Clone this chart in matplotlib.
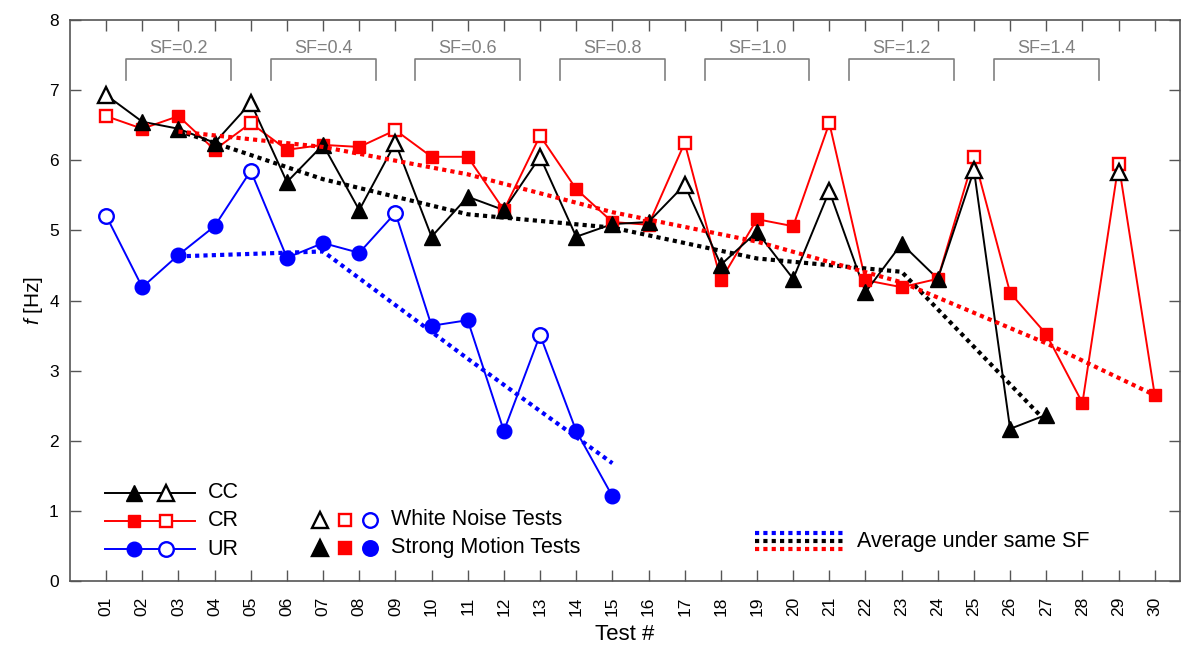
import numpy as np
import matplotlib
matplotlib.use("Agg")
import matplotlib.pyplot as plt

plt.rcParams['font.family'] = ['Liberation Sans', 'DejaVu Sans']
plt.rcParams['mathtext.fontset'] = 'custom'
plt.rcParams['mathtext.it'] = 'Liberation Sans:italic'
plt.rcParams['mathtext.rm'] = 'Liberation Sans'

# test numbers and tick labels
tests = np.arange(1, 31)
tick_labels = ['%02d' % t for t in tests]

nan = np.nan
# natural frequency f [Hz]
cc = [6.93, 6.55, 6.45, 6.25, 6.82, 5.69, 6.22, 5.29, 6.25, 4.91,
      5.48, 5.29, 6.05, 4.91, 5.09, 5.12, 5.65, 4.51, 4.98, 4.31,
      5.56, 4.12, 4.81, 4.31, 5.86, 2.17, 2.37, nan, 5.83, nan]
cr = [6.63, 6.45, 6.63, 6.15, 6.53, 6.15, 6.22, 6.19, 6.43, 6.05,
      6.05, 5.29, 6.35, 5.59, 5.12, 5.08, 6.25, 4.29, 5.16, 5.06,
      6.53, 4.29, 4.19, 4.31, 6.05, 4.11, 3.52, 2.54, 5.95, 2.65]
ur = [5.21, 4.19, 4.65, 5.06, 5.85, 4.61, 4.82, 4.68, 5.25, 3.64,
      3.72, 2.14, 3.51, 2.14, 1.21] + [nan] * 15

# white noise tests (open markers), the rest are strong motion tests
white_noise = [1, 5, 9, 13, 17, 21, 25, 29]

# averages under same SF
avg_x_cc = [3, 7, 11, 15, 19, 23, 27]
avg_cc = [6.42, 5.73, 5.23, 5.04, 4.60, 4.41, 2.27]
avg_x_cr = [3, 7, 11, 15, 19, 23, 27, 30]
avg_cr = [6.41, 6.19, 5.80, 5.26, 4.84, 4.26, 3.39, 2.65]
avg_x_ur = [3, 7, 11, 15]
avg_ur = [4.63, 4.70, 3.17, 1.68]

# SF groups
sf_labels = ['SF=0.2', 'SF=0.4', 'SF=0.6', 'SF=0.8', 'SF=1.0', 'SF=1.2', 'SF=1.4']
sf_centers = [3, 7, 11, 15, 19, 23, 27]

fig = plt.figure(figsize=(11.86, 6.47), dpi=100)
ax = fig.add_axes([0.059, 0.102, 0.936, 0.867])

series = [
    (cr, 'red', 's', 9),
    (cc, 'black', '^', 11.5),
    (ur, 'blue', 'o', 10.5),
]
wn_mask = np.isin(tests, white_noise)
for vals, col, mk, ms in series:
    v = np.array(vals, dtype=float)
    ax.plot(tests, v, '-', color=col, lw=1.4, zorder=2)
    ax.plot(tests[~wn_mask], v[~wn_mask], mk, color=col, ms=ms,
            mec=col, mfc=col, ls='none', zorder=3)
    ax.plot(tests[wn_mask], v[wn_mask], mk, color=col, ms=ms,
            mec=col, mfc='white', mew=1.7, ls='none', zorder=3)

dot = dict(lw=3.0, dashes=(1, 1.0), dash_capstyle='butt', zorder=4)
ax.plot(avg_x_ur, avg_ur, color='blue', **dot)
ax.plot(avg_x_cc, avg_cc, color='black', **dot)
ax.plot(avg_x_cr, avg_cr, color='red', **dot)

# SF brackets
gray = '#808080'
for lab, c in zip(sf_labels, sf_centers):
    ax.plot([c - 1.45, c - 1.45, c + 1.45, c + 1.45], [7.15, 7.45, 7.45, 7.15],
            color=gray, lw=1.2, zorder=1)
    ax.text(c, 7.6, lab, color=gray, fontsize=13, ha='center', va='center')

ax.set_xlim(0, 30.7)
ax.set_ylim(0, 8)
ax.set_xticks(tests)
ax.set_xticklabels(tick_labels, rotation=90, fontsize=12.5)
ax.set_yticks(range(0, 9))
ax.tick_params(axis='both', direction='in', length=8, width=1, color='#555555',
               top=True, right=True, labelsize=12.5)
ax.tick_params(axis='x', pad=11)
ax.tick_params(axis='y', pad=8)
for s in ax.spines.values():
    s.set_color('#555555')
    s.set_linewidth(1.2)
ax.set_xlabel('Test #', fontsize=16, labelpad=6)
ax.set_ylabel(r'$f$ [Hz]', fontsize=15, labelpad=3)

# legend 1: CC / CR / UR
T = ax.transAxes
rows = [('CC', 'black', '^', 11.5, 0.157), ('CR', 'red', 's', 9, 0.107),
        ('UR', 'blue', 'o', 10.5, 0.057)]
for name, col, mk, ms, yy in rows:
    ax.plot([0.0315, 0.1126], [yy, yy], '-', color=col, lw=1.4, transform=T, clip_on=False)
    ax.plot([0.0577], [yy], mk, color=col, ms=ms, transform=T, clip_on=False)
    ax.plot([0.0865], [yy], mk, color=col, ms=ms, mfc='white', mew=1.7,
            transform=T, clip_on=False)
    ax.text(0.124, yy, name, transform=T, fontsize=15.5, va='center', ha='left')

# legend 2: test types
mk_rows = [('White Noise Tests', 'white', 0.109), ('Strong Motion Tests', None, 0.059)]
for name, fill, yy in mk_rows:
    for xx, col, mk, ms in [(0.225, 'black', '^', 11.5), (0.248, 'red', 's', 9),
                            (0.270, 'blue', 'o', 10.5)]:
        ax.plot([xx], [yy], mk, color=col, ms=ms, mfc=fill if fill else col,
                mew=1.7, transform=T, clip_on=False)
    ax.text(0.289, yy, name, transform=T, fontsize=15.5, va='center', ha='left')

# legend 3: averages
for col, yy in [('blue', 0.0856), ('black', 0.0713), ('red', 0.057)]:
    ax.plot([0.617, 0.698], [yy, yy], color=col, transform=T, clip_on=False, **dot)
ax.text(0.709, 0.071, 'Average under same SF', transform=T, fontsize=15.5,
        va='center', ha='left')

fig.savefig('out.png', dpi=100)
